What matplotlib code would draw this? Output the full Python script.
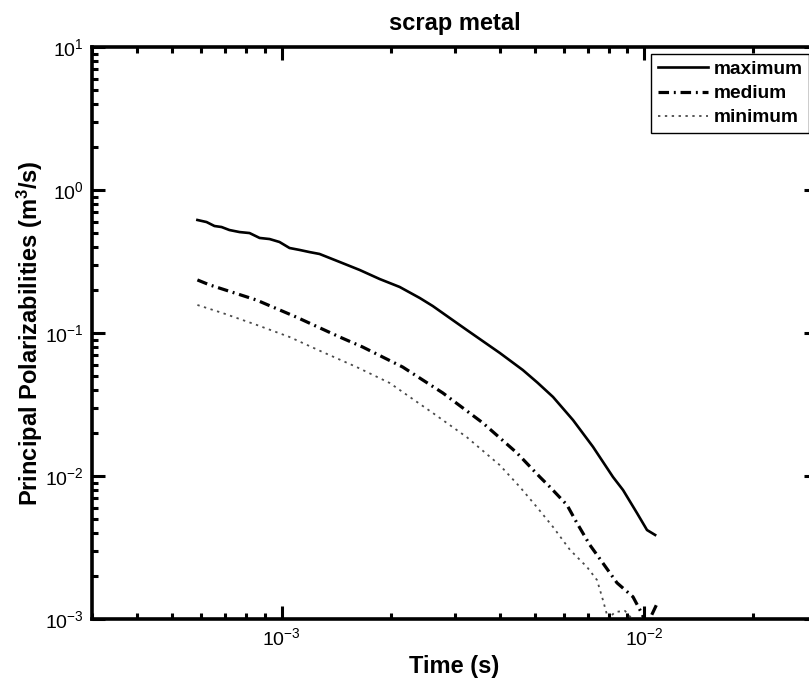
import matplotlib
matplotlib.use("Agg")
import matplotlib.pyplot as plt
from matplotlib.ticker import LogLocator, NullFormatter

plt.rcParams['font.family'] = ['Liberation Sans', 'DejaVu Sans']
plt.rcParams['mathtext.fontset'] = 'custom'
plt.rcParams['mathtext.rm'] = 'Liberation Sans'
plt.rcParams['mathtext.bf'] = 'Liberation Sans:bold'
plt.rcParams['mathtext.default'] = 'regular'

title = "scrap metal"
xlabel = "Time (s)"
ylabel = r"Principal Polarizabilities (m$^{\mathbf{3}}$/s)"
series_names = ["maximum", "medium", "minimum"]

max_t = [5.86e-4, 6.21e-4, 6.53e-4, 6.83e-4, 7.18e-4, 7.66e-4, 8.16e-4, 8.70e-4,
         9.27e-4, 9.87e-4, 1.052e-3, 1.121e-3, 1.195e-3, 1.273e-3, 1.446e-3,
         1.642e-3, 1.865e-3, 2.118e-3, 2.406e-3, 2.613e-3, 2.911e-3, 3.243e-3,
         4.001e-3, 4.63e-3, 5.08e-3, 5.61e-3, 6.37e-3, 7.23e-3, 8.21e-3, 8.75e-3,
         9.56e-3, 1.019e-2, 1.073e-2]
max_v = [0.617, 0.597, 0.560, 0.551, 0.525, 0.508, 0.500, 0.462, 0.454, 0.433,
         0.393, 0.381, 0.368, 0.357, 0.314, 0.276, 0.2385, 0.2098, 0.1757,
         0.1544, 0.1273, 0.105, 0.0725, 0.0551, 0.0450, 0.0357, 0.0246, 0.0160,
         0.00984, 0.00798, 0.00551, 0.00419, 0.00387]

med_t = [5.86e-4, 6.33e-4, 8.53e-4, 1.100e-3, 1.446e-3, 1.674e-3, 2.159e-3,
         2.785e-3, 3.592e-3, 4.46e-3, 5.16e-3, 5.50e-3, 6.13e-3, 6.53e-3,
         7.09e-3, 7.70e-3, 8.42e-3, 9.32e-3, 9.81e-3, 1.019e-2, 1.086e-2]
med_v = [0.235, 0.217, 0.170, 0.129, 0.0938, 0.0798, 0.0578, 0.0381, 0.0235,
         0.0145, 0.00984, 0.00838, 0.00627, 0.00469, 0.00329, 0.00246, 0.00179,
         0.00143, 0.00112, 0.00091, 0.00128]

min_t = [5.86e-4, 6.87e-4, 8.53e-4, 1.052e-3, 1.298e-3, 1.611e-3, 1.988e-3,
         2.613e-3, 3.243e-3, 4.001e-3, 4.545e-3, 5.06e-3, 5.61e-3, 6.25e-3,
         6.96e-3, 7.42e-3, 7.70e-3, 7.96e-3, 8.32e-3, 8.86e-3, 9.27e-3, 9.63e-3]
min_v = [0.157, 0.138, 0.114, 0.0938, 0.0736, 0.0578, 0.0447, 0.0276, 0.0187,
         0.0119, 0.00838, 0.00607, 0.00440, 0.00304, 0.00231, 0.00187, 0.00136,
         0.00100, 0.00112, 0.00114, 0.00100, 0.00090]

W, H = 809, 683
fig = plt.figure(figsize=(W / 100, H / 100), dpi=100)
L, R, T, B = 92, 817, 47, 619
ax = fig.add_axes([L / W, 1 - B / H, (R - L) / W, (B - T) / H])

ax.plot(max_t, max_v, color='black', lw=1.9, ls='-', label=series_names[0])
ax.plot(med_t, med_v, color='black', lw=2.3, ls=(0, (3.3, 1.5, 0.6, 1.5)),
        label=series_names[1])
ax.plot(min_t, min_v, color='#4a4a4a', lw=1.3, ls=(0, (1.3, 2.5)),
        label=series_names[2])

ax.set_xscale('log')
ax.set_yscale('log')
ax.set_xlim(3e-4, 3e-2)
ax.set_ylim(1e-3, 1e1)

for s in ax.spines.values():
    s.set_linewidth(2.6)
ax.tick_params(which='major', direction='in', length=9.5, width=2.2,
               top=True, right=True, labelsize=14, pad=6)
ax.tick_params(which='minor', direction='in', length=4.5, width=2.2,
               top=True, right=True)
ax.xaxis.set_minor_locator(LogLocator(base=10, subs=range(2, 10), numticks=20))
ax.yaxis.set_minor_locator(LogLocator(base=10, subs=range(2, 10), numticks=20))
ax.xaxis.set_minor_formatter(NullFormatter())
ax.yaxis.set_minor_formatter(NullFormatter())

ax.set_title(title, fontsize=17, fontweight='bold', pad=12)
ax.set_xlabel(xlabel, fontsize=17, fontweight='bold', labelpad=4)
ax.set_ylabel(ylabel, fontsize=17, fontweight='bold', labelpad=0)

leg = ax.legend(loc='upper left', bbox_to_anchor=(651 / W, 1 - 54 / H),
                bbox_transform=fig.transFigure, frameon=True, fancybox=False,
                edgecolor='black', framealpha=1, borderpad=0.35,
                borderaxespad=0.0,
                handlelength=2.6, handletextpad=0.3, labelspacing=0.35,
                prop={'size': 13.8, 'weight': 'bold'})
leg.get_frame().set_linewidth(1.0)

fig.savefig('out.png', dpi=100)
